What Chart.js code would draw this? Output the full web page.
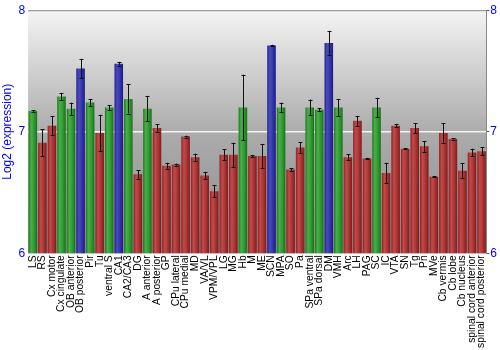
<!DOCTYPE html>
<html lang="en">
<head>
  <meta charset="UTF-8" />
  <title>Log2 expression</title>
  <script src="https://cdn.jsdelivr.net/npm/chart.js"></script>
  <style>
    html, body { margin: 0; padding: 0; background: #fff; }
    #wrap { width: 500px; height: 350px; position: relative; }
  </style>
</head>
<body>
  <div id="wrap"><canvas id="exprChart"></canvas></div>

  <script>
    const regions = ['LS', 'RS', 'Cx motor', 'Cx cingulate', 'OB anterior', 'OB posterior', 'Pir', 'Tu',
      'ventral S', 'CA1', 'CA2/CA3', 'DG', 'A anterior', 'A posterior', 'GP', 'CPu lateral', 'CPu medial',
      'MD', 'VA/VL', 'VPM/VPL', 'LG', 'MG', 'Hb', 'M', 'ME', 'SCN', 'MPA', 'SO', 'Pa', 'SPa ventral',
      'SPa dorsal', 'DM', 'VMH', 'Arc', 'LH', 'PAG', 'SC', 'IC', 'VTA', 'SN', 'Tg', 'Pn', 'MVe',
      'Cb vermis', 'Cb lobe', 'Cb nucleus', 'spinal cord anterior', 'spinal cord posterior'];

    const expression = [7.17, 6.91, 7.05, 7.29, 7.19, 7.52, 7.24, 6.99,
      7.20, 7.56, 7.27, 6.65, 7.19, 7.03, 6.72, 6.73, 6.96,
      6.79, 6.64, 6.51, 6.81, 6.81, 7.20, 6.80, 6.80, 7.71, 7.20, 6.69, 6.87, 7.20,
      7.18, 7.73, 7.20, 6.79, 7.09, 6.78, 7.20, 6.66, 7.05, 6.86, 7.03, 6.88, 6.63,
      6.99, 6.94, 6.68, 6.83, 6.84];

    const errors = [0.005, 0.11, 0.08, 0.03, 0.05, 0.08, 0.03, 0.15,
      0.02, 0.015, 0.12, 0.035, 0.105, 0.03, 0.025, 0.008, 0.008,
      0.03, 0.03, 0.05, 0.045, 0.1, 0.27, 0.008, 0.1, 0.005, 0.04, 0.01, 0.045, 0.065,
      0.012, 0.1, 0.07, 0.025, 0.04, 0.005, 0.08, 0.085, 0.015, 0.005, 0.04, 0.045, 0.005,
      0.08, 0.005, 0.06, 0.03, 0.033];

    // g = green, r = red, b = blue
    const groups = ['g', 'r', 'r', 'g', 'g', 'b', 'g', 'r',
      'g', 'b', 'g', 'r', 'g', 'r', 'r', 'r', 'r',
      'r', 'r', 'r', 'r', 'r', 'g', 'r', 'r', 'b', 'g', 'r', 'r', 'g',
      'g', 'b', 'g', 'r', 'r', 'r', 'g', 'r', 'r', 'r', 'r', 'r', 'r',
      'r', 'r', 'r', 'r', 'r'];

    const yTicks = [6, 7, 8];

    const shades = {
      g: ['#1f7a1f', '#48b048', '#309a30', '#1d6e1d'],
      r: ['#8a2222', '#c44a4a', '#aa3434', '#7c1c1c'],
      b: ['#22228a', '#4a4ac4', '#3434aa', '#1c1c7c']
    };

    function barFill(ctx) {
      const chart = ctx.chart;
      const c = shades[groups[ctx.dataIndex]] || shades.r;
      const xs = chart.scales.x;
      if (!chart.chartArea || !xs || ctx.dataIndex === undefined) return c[1];
      const cx = xs.getPixelForValue(ctx.dataIndex);
      const half = (chart.chartArea.width / regions.length) * 0.9 / 2;
      const grad = chart.ctx.createLinearGradient(cx - half, 0, cx + half, 0);
      grad.addColorStop(0, c[0]);
      grad.addColorStop(0.3, c[1]);
      grad.addColorStop(0.65, c[2]);
      grad.addColorStop(1, c[3]);
      return grad;
    }

    const plotBackground = {
      id: 'plotBackground',
      beforeDraw(chart) {
        const { ctx, chartArea: a } = chart;
        const grad = ctx.createLinearGradient(0, a.top, 0, a.bottom);
        grad.addColorStop(0, '#f4f4f4');
        grad.addColorStop(0.5, '#acacac');
        grad.addColorStop(1, '#8a8a8a');
        ctx.save();
        ctx.fillStyle = grad;
        ctx.fillRect(a.left, a.top, a.width, a.height);
        ctx.strokeStyle = '#888';
        ctx.lineWidth = 1;
        ctx.beginPath();
        ctx.moveTo(a.left, a.top + 0.5);
        ctx.lineTo(a.right, a.top + 0.5);
        ctx.stroke();
        ctx.restore();
      }
    };

    const errorBars = {
      id: 'errorBars',
      afterDatasetsDraw(chart) {
        const { ctx } = chart;
        const xs = chart.scales.x, ys = chart.scales.y;
        ctx.save();
        ctx.strokeStyle = '#111';
        ctx.lineWidth = 1;
        expression.forEach((v, i) => {
          const x = Math.round(xs.getPixelForValue(i)) + 0.5;
          const top = ys.getPixelForValue(v + errors[i]);
          const bot = ys.getPixelForValue(v - errors[i]);
          ctx.beginPath();
          ctx.moveTo(x, top);
          ctx.lineTo(x, bot);
          ctx.moveTo(x - 2, Math.round(top) + 0.5);
          ctx.lineTo(x + 2, Math.round(top) + 0.5);
          ctx.moveTo(x - 2, Math.round(bot) + 0.5);
          ctx.lineTo(x + 2, Math.round(bot) + 0.5);
          ctx.stroke();
        });
        ctx.restore();
      }
    };

    const tickFont = { family: 'Liberation Sans, Arial, sans-serif', size: 12 };

    new Chart(document.getElementById('exprChart'), {
      type: 'bar',
      data: {
        labels: regions,
        datasets: [{
          data: expression,
          backgroundColor: barFill,
          borderWidth: 0,
          barPercentage: 0.9,
          categoryPercentage: 1.0
        }]
      },
      options: {
        responsive: true,
        maintainAspectRatio: false,
        animation: false,
        layout: { padding: { top: 9, right: 2, left: 0, bottom: 0 } },
        plugins: {
          legend: { display: false },
          tooltip: { enabled: false }
        },
        scales: {
          x: {
            grid: { display: false, drawTicks: false },
            border: { display: false },
            ticks: {
              autoSkip: false,
              maxRotation: 90,
              minRotation: 90,
              padding: 2,
              color: '#000',
              font: { family: 'Liberation Sans, Arial, sans-serif', size: 10.3 }
            }
          },
          y: {
            min: 6,
            max: 8,
            afterBuildTicks: axis => { axis.ticks = yTicks.map(v => ({ value: v })); },
            grid: {
              color: c => c.tick && c.tick.value === 7 ? '#f4f4f4' : 'rgba(0,0,0,0)',
              lineWidth: 1.5,
              drawTicks: false
            },
            border: { display: false },
            ticks: { color: '#0000ff', font: tickFont, padding: 3 },
            title: {
              display: true,
              text: 'Log2 (expression)',
              color: '#0000ff',
              font: tickFont,
              padding: { top: 0, bottom: 1 }
            }
          },
          y2: {
            position: 'right',
            min: 6,
            max: 8,
            afterBuildTicks: axis => { axis.ticks = yTicks.map(v => ({ value: v })); },
            grid: { drawOnChartArea: false, color: '#555', tickLength: 3 },
            border: { display: true, color: '#888' },
            ticks: { color: '#0000ff', font: tickFont, padding: 1 }
          }
        }
      },
      plugins: [plotBackground, errorBars]
    });
  </script>
</body>
</html>
